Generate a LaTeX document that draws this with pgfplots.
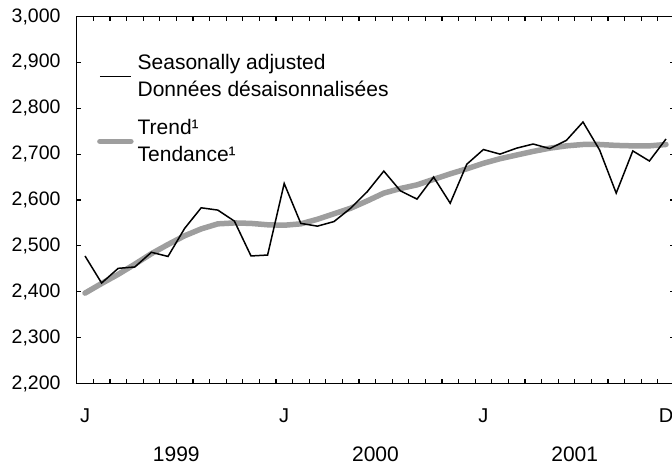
\documentclass[border=0pt]{standalone}
\usepackage{pgfplots}
\pgfplotsset{compat=1.18}
\usepackage{fontspec}
\setmainfont{Liberation Sans}
\definecolor{trendgray}{RGB}{158,158,158}

\pgfplotstableread{
i sa
0 2478
1 2419
2 2451
3 2454
4 2486
5 2477
6 2538
7 2583
8 2578
9 2554
10 2478
11 2480
12 2636
13 2549
14 2543
15 2553
16 2582
17 2618
18 2663
19 2620
20 2602
21 2650
22 2593
23 2678
24 2710
25 2700
26 2713
27 2722
28 2712
29 2730
30 2770
31 2709
32 2615
33 2707
34 2685
35 2733
}\sadata

\pgfplotstableread{
i tr
0 2397
1 2418
2 2438
3 2460
4 2483
5 2503
6 2522
7 2537
8 2548
9 2550
10 2549
11 2546
12 2545
13 2548
14 2558
15 2570
16 2582
17 2598
18 2615
19 2625
20 2633
21 2645
22 2657
23 2668
24 2680
25 2690
26 2698
27 2706
28 2713
29 2718
30 2721
31 2721
32 2719
33 2718
34 2718
35 2721
}\trdata

\begin{document}
\begin{tikzpicture}[x=1pt,y=1pt]
\path[use as bounding box] (0,0) rectangle (672,465);
\begin{axis}[
  at={(76.7pt,81.5pt)}, anchor=south west,
  scale only axis, width=597.6pt, height=367pt,
  xmin=-0.5, xmax=35.5, ymin=2200, ymax=3000,
  axis line style={line width=1.5pt},
  tick align=inside,
  ytick={2200,2300,...,3000},
  major tick length=4.5pt,
  tick style={line width=1.2pt, black},
  xtick={0.5,1.5,...,34.5}, xticklabels={},
  extra x ticks={0,12,24,35}, extra x tick labels={J,J,J,D},
  extra x tick style={major tick length=0pt},
  xticklabel style={anchor=center, inner sep=0pt, yshift=-32pt, font=\fontsize{20}{24}\selectfont},
  yticklabel style={anchor=east, inner sep=0pt, xshift=-16pt, font=\fontsize{19.5}{22}\selectfont},
  /pgf/number format/assume math mode=true,
  /pgf/number format/1000 sep={,},
  scaled y ticks=false,
  clip mode=individual,
  reverse legend,
  legend style={at={(axis cs:0.72,2917)}, anchor=north west, draw=none, fill=none,
    inner sep=0pt, font=\fontsize{21}{27}\selectfont,
    cells={anchor=west, align=left}, row sep=21pt,
    /tikz/every odd column/.append style={column sep=4pt},
    nodes={inner sep=0pt}},
  legend image code/.code={\draw[#1] (0pt,0pt) -- (31pt,0pt);},
]
\addplot[trendgray, line width=5.5pt, line cap=round, line join=round] table[x=i,y=tr] {\trdata};
\addlegendentry{Trend¹\\Tendance¹}
\addplot[black, line width=1.5pt, line join=miter] table[x=i,y=sa] {\sadata};
\addlegendentry{Seasonally adjusted\\Données désaisonnalisées}
\node[font=\fontsize{21}{24}\selectfont] at (axis cs:5.5,2200) [yshift=-70.5pt] {1999};
\node[font=\fontsize{21}{24}\selectfont] at (axis cs:17.5,2200) [yshift=-70.5pt] {2000};
\node[font=\fontsize{21}{24}\selectfont] at (axis cs:29.5,2200) [yshift=-70.5pt] {2001};
\end{axis}
\end{tikzpicture}
\end{document}
